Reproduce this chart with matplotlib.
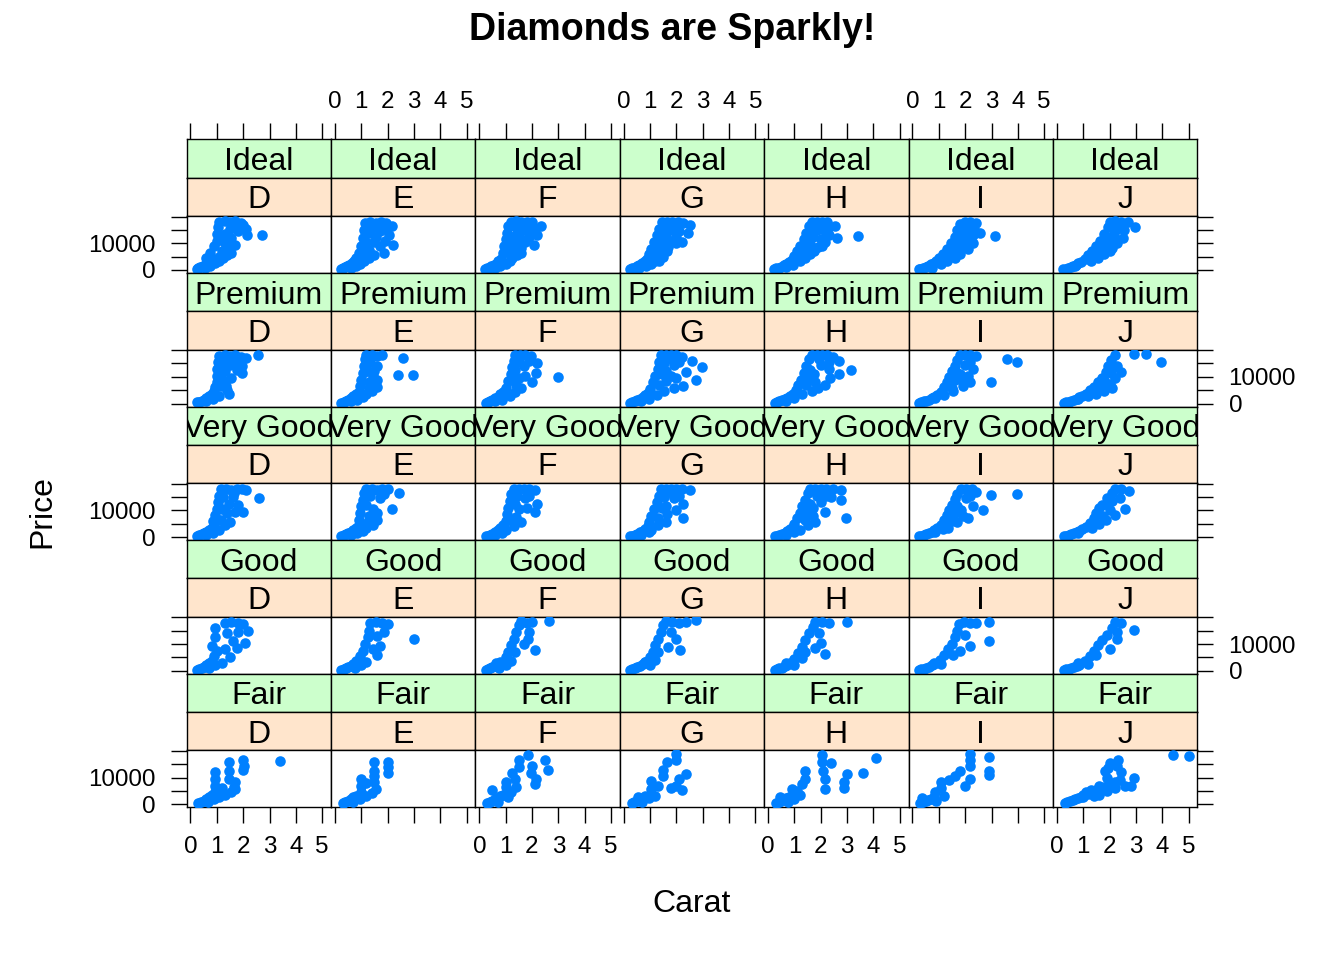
import matplotlib
matplotlib.use("Agg")
import matplotlib.pyplot as plt

plt.rcParams["font.family"] = ["Liberation Sans", "DejaVu Sans"]

title = "Diamonds are Sparkly!"
x_label = "Carat"
y_label = "Price"
cut_levels = ["Ideal", "Premium", "Very Good", "Good", "Fair"]  # rows, top to bottom
color_levels = ["D", "E", "F", "G", "H", "I", "J"]  # columns
x_ticks = [0, 1, 2, 3, 4, 5]
y_ticks = [0, 5000, 10000, 15000, 20000]
y_tick_labels = ["0", "", "10000", "", ""]

# (carat, price)
ideal_d = [(0.23, 400), (0.3, 650), (0.38, 950), (0.46, 1300), (0.55, 1800), (0.64, 2400), (0.73, 3100), (0.82, 3900),
           (0.55, 700), (0.75, 1500), (0.95, 2500), (1.1, 3500), (1.25, 4500), (1.4, 5600), (1.55, 6500),
           (0.6, 4500), (0.75, 6500), (0.9, 8800), (1.0, 11000), (1.0, 13500), (1.05, 16000), (1.1, 18000),
           (1.3, 18200), (1.5, 17800), (1.7, 18200), (1.9, 17600), (1.8, 14500), (2.0, 17000), (2.1, 15500),
           (1.2, 7000), (1.3, 10000), (1.3, 13500), (1.5, 15500), (1.55, 12000), (1.7, 9500), (1.45, 8500),
           (1.1, 5000), (1.15, 12000), (1.7, 16000), (1.4, 11500), (1.9, 16000),
           (2.13, 13000), (2.73, 13200)]
ideal_e = [(0.23, 400), (0.3, 650), (0.38, 950), (0.46, 1400), (0.55, 1900), (0.64, 2600), (0.73, 3400), (0.82, 4500),
           (0.6, 900), (0.8, 1600), (0.95, 2300), (1.1, 3200), (1.3, 4500), (1.5, 5500), (1.85, 6500),
           (0.9, 6500), (1.0, 9000), (1.05, 12000), (1.1, 15000), (1.15, 17500),
           (1.35, 17800), (1.55, 17500), (1.75, 17900), (1.95, 17600), (2.15, 16500), (2.05, 13000),
           (1.3, 7500), (1.5, 10500), (1.35, 14000), (1.7, 14500), (1.7, 9000), (1.9, 11000),
           (1.2, 6000), (1.2, 10500), (1.25, 16000), (1.55, 16000), (1.9, 15500), (1.55, 12500), (1.05, 4000),
           (2.21, 9400)]
ideal_f = [(0.23, 380), (0.3, 600), (0.38, 900), (0.46, 1300), (0.55, 1800), (0.64, 2400), (0.73, 3200), (0.82, 4200),
           (0.6, 850), (0.8, 1500), (1.0, 2300), (1.15, 3300), (1.25, 4600), (1.45, 5600), (1.6, 6300),
           (0.9, 6200), (0.95, 8800), (1.0, 11500), (1.05, 14000), (1.1, 16500), (1.2, 18000),
           (1.4, 18200), (1.6, 17800), (1.8, 18000), (2.0, 17800), (2.35, 16500), (2.2, 13000),
           (1.3, 7500), (1.4, 10500), (1.45, 14000), (1.7, 15000), (1.75, 10500), (1.9, 12500), (1.6, 8300),
           (1.15, 6000), (1.2, 9000), (1.25, 12500), (1.3, 16500), (1.55, 16000), (1.55, 12000), (2.1, 15500),
           (1.9, 14500),
           (2.09, 9400)]
ideal_g = [(0.23, 380), (0.3, 600), (0.4, 900), (0.5, 1300), (0.6, 1800), (0.7, 2500), (0.8, 3300), (0.9, 4200),
           (0.6, 800), (0.85, 1500), (1.05, 2300), (1.2, 3300), (1.35, 3500), (1.5, 5000), (1.65, 7000),
           (0.95, 6000), (1.05, 8000), (1.15, 10500), (1.25, 13000), (1.35, 15500), (1.45, 17800),
           (1.65, 18000), (1.85, 17800), (2.05, 18000), (2.25, 17600), (2.5, 17000), (2.45, 14000),
           (1.35, 7000), (1.5, 9500), (1.6, 12500), (1.8, 15000), (1.85, 11000), (2.1, 14500), (2.2, 10500),
           (1.25, 5500), (1.3, 8500), (1.45, 11000), (1.55, 14500), (1.7, 16500), (2.0, 16000), (1.7, 8500),
           (2.0, 12500), (2.0, 10000)]
ideal_h = [(0.23, 350), (0.3, 550), (0.4, 850), (0.5, 1200), (0.6, 1700), (0.7, 2300), (0.8, 3000), (0.9, 3800),
           (0.7, 1000), (0.95, 1900), (1.2, 3400), (1.4, 4600), (1.6, 5800), (1.75, 7000), (2.05, 9000),
           (1.0, 5200), (1.1, 7000), (1.2, 9000), (1.35, 11500), (1.45, 14000), (1.55, 16500), (1.65, 17800),
           (1.85, 18000), (2.05, 17800), (2.25, 17900), (2.55, 16500), (2.3, 13000),
           (1.45, 7000), (1.6, 9800), (1.7, 12500), (1.85, 15000), (2.0, 11500), (2.15, 14500), (1.9, 8500),
           (1.3, 6000), (1.45, 8500), (1.55, 11000), (1.65, 14000), (1.95, 16500), (2.3, 16000), (2.15, 10500),
           (1.75, 7500),
           (2.6, 11800), (3.4, 12700)]
ideal_i = [(0.23, 350), (0.3, 520), (0.4, 800), (0.5, 1100), (0.6, 1500), (0.7, 2100), (0.8, 2700), (0.9, 3400),
           (0.75, 900), (1.1, 2200), (1.3, 3300), (1.6, 4600), (1.8, 6000), (2.1, 8000), (2.3, 10000),
           (1.0, 4300), (1.15, 6000), (1.3, 8000), (1.45, 10000), (1.6, 12500), (1.7, 15000), (1.8, 17300),
           (2.0, 17800), (2.2, 18000), (2.4, 17500), (2.55, 14000), (2.35, 15500),
           (1.5, 6500), (1.7, 8500), (1.85, 11000), (2.0, 13500), (2.1, 10500), (2.2, 15500),
           (1.35, 5200), (1.5, 7500), (1.65, 10000), (1.8, 13000), (1.9, 15500), (2.3, 13000), (2.0, 9000),
           (3.15, 12600)]
ideal_j = [(0.25, 340), (0.33, 500), (0.42, 750), (0.52, 1050), (0.62, 1400), (0.72, 1900), (0.82, 2500), (0.92, 3100),
           (0.7, 1600), (1.3, 3400), (1.55, 4500), (1.8, 5800), (2.1, 8200), (2.3, 10000), (2.5, 11800),
           (1.05, 4000), (1.2, 5500), (1.35, 7200), (1.5, 9000), (1.65, 11000), (1.8, 13500), (1.95, 16000),
           (2.0, 18000), (2.2, 18200), (2.45, 18000), (2.7, 17800), (2.55, 15000),
           (1.6, 6500), (1.8, 8500), (1.95, 11000), (2.15, 13000), (2.3, 15500),
           (1.45, 5500), (1.65, 7500), (1.8, 10000), (2.0, 12500), (2.15, 15000), (2.4, 16000), (2.2, 10500),
           (2.0, 7000),
           (2.95, 16000)]

premium_d = [(0.25, 400), (0.33, 700), (0.42, 1100), (0.5, 1500), (0.6, 2100), (0.7, 2800), (0.8, 3600), (0.9, 4600),
             (0.6, 900), (0.85, 1600), (1.1, 2800), (1.45, 3400), (1.4, 5000), (1.35, 6500),
             (0.95, 6200), (1.0, 8200), (1.0, 10500), (1.0, 13000), (1.05, 15500), (1.1, 17800),
             (1.3, 18200), (1.5, 17800), (1.7, 18000), (1.9, 17500), (2.1, 17000), (1.95, 14000), (1.95, 11500),
             (1.25, 9000), (1.3, 12000), (1.5, 14500), (1.55, 9500), (1.75, 12500),
             (1.15, 11000), (1.2, 15000), (1.4, 16500), (1.7, 15500), (1.15, 6500),
             (2.55, 18000)]
premium_e = [(0.25, 380), (0.33, 650), (0.42, 1000), (0.5, 1400), (0.6, 2000), (0.7, 2700), (0.8, 3500), (0.9, 4500),
             (0.6, 850), (0.85, 1500), (1.05, 2400), (1.2, 3400), (1.4, 4600), (1.6, 6300),
             (0.95, 6500), (1.0, 9000), (1.05, 11500), (1.1, 14000), (1.15, 16500), (1.2, 18200),
             (1.4, 18000), (1.6, 17800), (1.8, 18200), (1.6, 14000), (1.45, 10500), (1.3, 8000), (1.6, 9000),
             (1.25, 12000), (1.35, 15500), (1.3, 6000), (1.5, 12000),
             (2.6, 17000), (2.41, 10800), (2.97, 10800)]
premium_f = [(0.25, 380), (0.33, 620), (0.42, 950), (0.5, 1350), (0.6, 1900), (0.7, 2600), (0.8, 3400), (0.9, 4400),
             (0.6, 800), (0.85, 1400), (1.15, 2800), (1.35, 4200), (1.6, 5800), (2.0, 8000),
             (1.0, 6000), (1.1, 8500), (1.2, 11000), (1.25, 13500), (1.3, 16000), (1.35, 18200),
             (1.55, 18000), (1.75, 18200), (1.95, 17800), (2.2, 15300), (2.15, 11500), (1.7, 14000), (1.5, 9500),
             (1.75, 10500), (1.4, 6800),
             (1.35, 12500), (1.5, 15500), (1.3, 9500), (1.9, 16000),
             (2.97, 10000)]
premium_g = [(0.25, 380), (0.33, 600), (0.42, 920), (0.52, 1300), (0.62, 1800), (0.72, 2400), (0.82, 3200), (0.92, 4100),
             (0.65, 800), (0.95, 1800), (1.25, 3200), (1.55, 4600), (1.9, 6000), (2.25, 6400),
             (1.0, 5500), (1.1, 8000), (1.2, 10500), (1.3, 13000), (1.35, 15500), (1.4, 18000),
             (1.6, 18200), (1.8, 18000), (2.0, 18200), (2.2, 17500), (2.35, 11800), (1.9, 14500), (1.6, 12000),
             (1.6, 8500), (2.0, 9500), (2.1, 15500), (2.75, 8800),
             (1.45, 11000), (1.55, 15000), (1.35, 7000), (1.8, 16500), (1.8, 10500),
             (2.6, 16000), (2.97, 13600)]
premium_h = [(0.25, 360), (0.33, 560), (0.43, 850), (0.53, 1200), (0.63, 1650), (0.73, 2200), (0.83, 2900), (0.93, 3700),
             (0.7, 900), (1.0, 2200), (1.3, 3600), (1.65, 4600), (1.9, 5800), (2.15, 7000),
             (1.05, 5000), (1.15, 7000), (1.25, 9000), (1.35, 11500), (1.45, 14000), (1.55, 16500), (1.65, 18200),
             (1.85, 18200), (2.05, 18000), (2.25, 18200), (2.45, 17500), (2.7, 16000), (2.7, 11000), (2.3, 13000),
             (2.0, 14500), (1.75, 11000), (1.8, 8000), (2.35, 9500),
             (1.5, 9500), (1.6, 12500), (1.95, 16500), (1.45, 7000), (2.3, 15500),
             (3.13, 12400)]
premium_i = [(0.25, 350), (0.33, 530), (0.43, 800), (0.53, 1100), (0.63, 1500), (0.73, 2000), (0.83, 2600), (0.93, 3300),
             (0.85, 2200), (1.2, 3200), (1.55, 4600), (1.9, 6500), (2.2, 8200),
             (1.1, 4500), (1.2, 6300), (1.3, 8200), (1.4, 10000), (1.5, 12000), (1.6, 14200), (1.7, 16300), (1.8, 18200),
             (2.0, 18200), (2.2, 18000), (2.4, 17700), (2.3, 13000), (2.0, 14500), (1.8, 11000), (1.9, 8500),
             (2.1, 10500),
             (1.6, 9000), (1.7, 11500), (2.2, 15500), (1.5, 6000),
             (3.57, 16600), (3.95, 15400), (2.97, 8200)]
premium_j = [(0.27, 340), (0.35, 500), (0.45, 750), (0.55, 1050), (0.65, 1400), (0.75, 1800), (0.85, 2300), (0.95, 2900),
             (0.8, 1600), (1.2, 2700), (1.5, 3400), (1.8, 4600), (2.08, 5800),
             (1.1, 3700), (1.25, 4900), (1.4, 6300), (1.55, 7900), (1.7, 9700), (1.85, 11800), (1.95, 14000),
             (2.05, 16200), (2.2, 18200), (2.45, 11800), (2.3, 14000), (2.2, 9500), (2.0, 7500),
             (1.8, 9000), (2.05, 11500), (2.15, 13500), (1.7, 6500),
             (2.94, 18400), (3.4, 18400), (3.97, 15400)]

vgood_d = [(0.25, 400), (0.33, 700), (0.42, 1050), (0.5, 1500), (0.6, 2100), (0.7, 2800), (0.8, 3600), (0.9, 4600),
           (0.6, 800), (0.85, 1500), (1.1, 2800), (1.3, 4500), (1.5, 5800),
           (0.85, 6000), (0.95, 8200), (1.0, 10500), (1.05, 13000), (1.1, 15500), (1.15, 18000),
           (1.35, 18200), (1.55, 17800), (1.75, 18200), (1.95, 18000), (2.1, 17500), (1.8, 12000), (2.0, 9400),
           (1.4, 9000), (1.45, 12500), (1.6, 15000), (1.7, 9500),
           (1.2, 10500), (1.25, 15000), (1.65, 16500), (1.15, 6500),
           (2.6, 14800)]
vgood_e = [(0.25, 380), (0.33, 650), (0.42, 1000), (0.5, 1400), (0.6, 1950), (0.7, 2650), (0.8, 3500), (0.9, 4500),
           (0.6, 850), (0.85, 1500), (1.05, 2400), (1.2, 3400), (1.45, 4600), (1.6, 6300),
           (0.9, 6500), (0.95, 9000), (1.0, 11500), (1.05, 14000), (1.1, 16500), (1.2, 18200),
           (1.4, 18200), (1.6, 17800), (1.8, 18200), (2.0, 18000), (1.7, 14500), (1.45, 10500), (1.3, 8000),
           (1.6, 9000),
           (1.2, 12000), (1.35, 15500), (1.25, 5800), (1.85, 16000),
           (2.45, 16500), (2.16, 10500)]
vgood_f = [(0.25, 380), (0.33, 620), (0.42, 950), (0.5, 1350), (0.6, 1900), (0.7, 2600), (0.8, 3400), (0.9, 4400),
           (0.6, 800), (0.85, 1400), (1.0, 2800), (1.3, 4200), (1.6, 5800),
           (1.0, 6000), (1.05, 8500), (1.1, 11000), (1.15, 13500), (1.2, 16000), (1.3, 18200),
           (1.5, 18200), (1.7, 18000), (1.9, 18200), (2.1, 17500), (2.2, 12400), (2.1, 9400), (1.75, 14500),
           (1.5, 10500), (1.8, 11000), (1.4, 7500),
           (1.35, 12500), (1.45, 15500), (1.2, 6500), (1.9, 15500)]
vgood_g = [(0.25, 380), (0.33, 600), (0.42, 920), (0.52, 1300), (0.62, 1800), (0.72, 2400), (0.82, 3200), (0.92, 4100),
           (0.65, 800), (0.95, 1800), (1.05, 2800), (1.6, 5800), (1.3, 4500),
           (0.95, 5800), (1.05, 8000), (1.15, 10500), (1.25, 13000), (1.35, 15500), (1.4, 18000),
           (1.6, 18200), (1.8, 18000), (2.0, 18200), (2.2, 18000), (2.5, 17700), (2.25, 12400), (2.25, 7000),
           (1.9, 14500), (1.6, 11500), (1.65, 8500), (2.0, 10000), (2.1, 15500),
           (1.45, 11000), (1.55, 15000), (1.3, 7000), (1.85, 16500)]
vgood_h = [(0.25, 360), (0.33, 560), (0.43, 850), (0.53, 1200), (0.63, 1650), (0.73, 2200), (0.83, 2900), (0.93, 3700),
           (0.7, 900), (1.0, 2000), (1.2, 2800), (1.5, 4600), (1.8, 5800),
           (1.0, 5000), (1.1, 7000), (1.2, 9000), (1.3, 11500), (1.4, 14000), (1.5, 16500), (1.6, 18200),
           (1.8, 18200), (2.0, 18000), (2.2, 18200), (2.45, 18000), (2.75, 17800), (2.75, 14000), (2.4, 15000),
           (2.15, 9400), (2.0, 13000), (1.7, 11000), (1.7, 7800),
           (1.5, 9500), (1.6, 12500), (1.85, 15500), (2.2, 15500), (1.4, 6500),
           (2.94, 7000)]
vgood_i = [(0.25, 350), (0.33, 530), (0.43, 800), (0.53, 1100), (0.63, 1500), (0.73, 2000), (0.83, 2600), (0.93, 3300),
           (0.85, 2100), (1.15, 3000), (1.35, 3400), (1.7, 5500), (2.1, 7000),
           (1.1, 4500), (1.2, 6300), (1.3, 8200), (1.4, 10000), (1.5, 12000), (1.6, 14200), (1.7, 16300), (1.85, 18200),
           (2.05, 18200), (2.25, 18000), (2.4, 17000), (2.3, 11800), (2.05, 14500), (1.85, 10000), (1.9, 8000),
           (1.6, 9000), (1.7, 11500), (2.2, 15500), (1.5, 6000),
           (2.99, 15600), (3.97, 16000), (2.67, 10000)]
vgood_j = [(0.27, 340), (0.35, 500), (0.45, 750), (0.55, 1050), (0.65, 1400), (0.75, 1800), (0.85, 2300), (0.95, 2900),
           (0.8, 1500), (1.35, 3400), (1.6, 4800), (1.85, 6400),
           (1.1, 3800), (1.25, 5200), (1.4, 7000), (1.5, 9000), (1.6, 11000), (1.7, 12000), (1.9, 14500),
           (2.1, 16500), (2.2, 18200), (2.45, 18200), (2.74, 17200), (2.57, 10500), (2.2, 8200), (2.0, 10000),
           (2.4, 14500), (1.85, 12500), (2.1, 13500), (1.75, 8000)]

good_d = [(0.25, 420), (0.33, 700), (0.42, 1050), (0.5, 1500), (0.6, 2100), (0.7, 2800), (0.8, 3600),
          (0.7, 1100), (0.95, 2000), (1.2, 2800), (1.5, 5000),
          (0.83, 9400), (0.9, 5500), (1.0, 7500), (0.95, 12500), (0.95, 16000),
          (1.3, 18000), (1.55, 18200), (1.8, 18000), (2.0, 17500), (1.4, 14000), (1.6, 11000), (1.8, 14500),
          (2.2, 14800), (2.07, 10500), (1.3, 8000), (1.75, 8500)]
good_e = [(0.25, 400), (0.33, 650), (0.42, 1000), (0.5, 1400), (0.6, 1950), (0.7, 2650), (0.8, 3500),
          (0.75, 1100), (1.0, 2200), (1.2, 3400), (1.6, 5800),
          (0.95, 5500), (1.05, 7500), (1.15, 10000), (1.25, 12500), (1.3, 15000), (1.35, 18000),
          (1.55, 18200), (1.8, 18000), (2.0, 17500), (1.7, 9400), (1.6, 13000), (1.45, 8000), (1.85, 14500),
          (3.0, 11800)]
good_f = [(0.25, 380), (0.33, 620), (0.42, 950), (0.5, 1350), (0.6, 1900), (0.7, 2600), (0.8, 3400),
          (0.65, 2800), (0.75, 1200), (1.0, 2200), (1.2, 3600), (1.35, 7000),
          (1.0, 5000), (1.1, 7000), (1.2, 9500), (1.3, 12000), (1.4, 14500), (1.5, 17000), (1.6, 18500),
          (1.8, 18000), (2.0, 18200), (1.85, 11800), (2.1, 7600), (1.9, 14500), (1.7, 10000),
          (2.65, 18700)]
good_g = [(0.25, 380), (0.33, 600), (0.42, 920), (0.52, 1300), (0.62, 1800), (0.72, 2400), (0.82, 3200),
          (0.8, 3400), (1.0, 2000), (1.3, 7000), (1.2, 4000),
          (1.0, 5000), (1.1, 7000), (1.2, 9500), (1.3, 12000), (1.4, 14500), (1.5, 17000), (1.6, 18500),
          (1.85, 18300), (2.1, 18000), (2.35, 18200), (2.74, 19000), (2.0, 11800), (2.13, 7600), (1.8, 14500),
          (1.7, 9000)]
good_h = [(0.25, 360), (0.33, 560), (0.43, 850), (0.53, 1200), (0.63, 1650), (0.73, 2200), (0.83, 2900),
          (0.7, 2800), (1.0, 2000), (1.4, 7000), (1.3, 4600),
          (1.0, 4500), (1.15, 6500), (1.3, 9000), (1.4, 11500), (1.55, 14000), (1.7, 16500), (1.8, 18200),
          (2.05, 18200), (2.3, 18000), (3.0, 18400), (2.0, 10500), (2.16, 6400), (1.95, 14000), (1.8, 8500)]
good_i = [(0.25, 350), (0.33, 530), (0.43, 800), (0.53, 1100), (0.63, 1500), (0.73, 2000), (0.83, 2600),
          (0.8, 2800), (1.1, 2400), (1.55, 5800),
          (1.05, 4200), (1.2, 6000), (1.35, 8000), (1.5, 10000), (1.6, 12500), (1.7, 15000), (1.75, 17500),
          (1.95, 18200), (2.2, 18000), (2.4, 17800), (2.9, 18400), (2.9, 11200), (2.2, 9400), (2.0, 13500),
          (1.8, 7500)]
good_j = [(0.27, 340), (0.35, 500), (0.45, 750), (0.55, 1050), (0.65, 1400), (0.75, 1800), (0.85, 2300),
          (0.8, 2800), (1.2, 2500), (1.5, 5800),
          (1.05, 3800), (1.25, 5500), (1.4, 7500), (1.55, 9500), (1.7, 11500), (1.9, 13500), (2.1, 16000),
          (2.2, 18200), (2.45, 18000), (2.3, 11800), (2.0, 8200), (2.94, 15400), (2.3, 14500)]

fair_d = [(0.3, 500), (0.4, 900), (0.5, 1400), (0.6, 2000), (0.7, 2700), (0.8, 3400),
          (0.65, 1000), (0.9, 2000), (1.1, 2800), (1.3, 3500), (1.55, 4800),
          (0.95, 4600), (0.95, 7000), (0.95, 9600), (0.95, 12000), (1.2, 6000),
          (1.45, 16000), (1.45, 12400), (1.45, 9500), (1.7, 8200), (1.7, 5800), (1.65, 6500),
          (2.0, 16600), (2.0, 13000), (2.05, 14500),
          (3.4, 16300)]
fair_e = [(0.3, 500), (0.4, 900), (0.5, 1400), (0.6, 2000), (0.7, 2700), (0.8, 3300),
          (0.7, 1000), (0.95, 2000), (1.2, 3000), (1.4, 4200),
          (1.0, 4800), (1.0, 7000), (1.0, 9400), (1.2, 8000),
          (1.47, 16000), (1.47, 12400), (1.47, 8200), (1.5, 10500), (1.55, 5800),
          (2.0, 16000), (2.0, 11800), (2.0, 14000)]
fair_f = [(0.3, 450), (0.4, 800), (0.5, 1300), (0.6, 1900), (0.7, 2500), (0.8, 3100),
          (0.5, 5200), (0.7, 1000), (0.9, 3400), (1.1, 2600), (1.2, 4500),
          (1.0, 8200), (1.0, 6500), (1.26, 11800), (1.35, 9500), (1.5, 16600), (1.5, 14000),
          (1.86, 18400), (1.95, 11800), (2.1, 7600), (2.0, 14500), (2.48, 16600), (2.6, 13000), (2.15, 9500),
          (1.4, 6500)]
fair_g = [(0.3, 450), (0.4, 800), (0.5, 1250), (0.6, 1800), (0.7, 2400), (0.8, 3000),
          (0.55, 2800), (0.7, 1000), (0.95, 2200), (1.2, 3200),
          (1.03, 8800), (1.03, 5800), (1.5, 13000), (1.65, 16000), (1.5, 10500), (1.3, 7000),
          (2.0, 19000), (2.0, 16500), (2.37, 11200), (2.0, 7000), (2.1, 9400), (2.2, 5500), (1.8, 6000)]
fair_h = [(0.3, 400), (0.4, 750), (0.5, 1200), (0.6, 1700), (0.7, 2200), (0.8, 2800),
          (0.45, 2800), (0.75, 1000), (1.0, 2000), (1.2, 3500),
          (0.9, 5800), (1.1, 5000), (1.4, 12400), (1.4, 9400), (1.3, 7500),
          (2.03, 18400), (2.03, 16000), (2.4, 15400), (2.15, 9400), (2.15, 5800), (2.1, 12500),
          (3.0, 11200), (3.6, 11800), (4.1, 17500), (2.9, 8200), (2.9, 6200)]
fair_i = [(0.3, 400), (0.4, 700), (0.5, 1100), (0.6, 1600), (0.7, 2100), (0.8, 2700),
          (0.35, 2200), (0.85, 4600), (0.9, 1200), (1.2, 3000),
          (1.08, 8200), (1.1, 6000), (1.4, 9000), (1.8, 12400), (1.6, 10500),
          (2.18, 19000), (2.2, 14400), (2.2, 16500), (2.2, 9400), (2.0, 7000),
          (2.9, 17800), (2.9, 10800), (2.9, 12500)]
fair_j = [(0.3, 600), (0.4, 1000), (0.5, 1200), (0.6, 1600), (0.7, 2000), (0.8, 2500), (0.9, 2900),
          (1.0, 2800), (1.0, 3500), (1.2, 4000), (1.4, 3300), (1.6, 3600), (1.9, 5000), (2.2, 6000),
          (1.1, 4600), (1.3, 5400), (1.6, 6800), (2.0, 7500), (2.4, 9000),
          (2.6, 7000), (1.5, 5200), (1.8, 6500), (1.84, 12400), (1.9, 10000), (2.2, 8200), (2.33, 16600),
          (2.45, 12000), (2.3, 14500), (2.0, 15500), (1.95, 13500), (2.94, 10000), (2.8, 7000),
          (4.4, 18400), (5.0, 18000)]

panel_points = {
    "Ideal": [ideal_d, ideal_e, ideal_f, ideal_g, ideal_h, ideal_i, ideal_j],
    "Premium": [premium_d, premium_e, premium_f, premium_g, premium_h, premium_i, premium_j],
    "Very Good": [vgood_d, vgood_e, vgood_f, vgood_g, vgood_h, vgood_i, vgood_j],
    "Good": [good_d, good_e, good_f, good_g, good_h, good_i, good_j],
    "Fair": [fair_d, fair_e, fair_f, fair_g, fair_h, fair_i, fair_j],
}

W, H = 1344, 960
fig = plt.figure(figsize=(W / 100, H / 100), dpi=100)


def box(x0, y0, w, h):
    # pixel box (from top-left) -> figure fraction
    return [x0 / W, 1 - (y0 + h) / H, w / W, h / H]


left0, col_w = 186.5, 144.4
top0, row_h, strip_h = 139.3, 133.6, 38.3
panel_h = row_h - 2 * strip_h
xlim = (-0.15, 5.33)
ylim = (-1100, 20230)
lw = 1.0
tick_len, tick_w, tick_fs = 11.5, 1.0, 17.4
strip_fs = 23
point_col = "#0080ff"

for r, cut in enumerate(cut_levels):
    for c, col in enumerate(color_levels):
        x0 = left0 + c * col_w
        y0 = top0 + r * row_h
        ax_cut = fig.add_axes(box(x0, y0, col_w, strip_h))
        ax_col = fig.add_axes(box(x0, y0 + strip_h, col_w, strip_h))
        ax = fig.add_axes(box(x0, y0 + 2 * strip_h, col_w, panel_h))

        for a, lab, fc in ((ax_cut, cut, "#ccffcc"), (ax_col, col, "#ffe5cc")):
            a.set_facecolor(fc)
            a.set_xlim(xlim)
            a.set_xticks([])
            a.set_yticks([])
            for s in a.spines.values():
                s.set_linewidth(lw)
            a.text(0.5, 0.2, lab, transform=a.transAxes, ha="center", va="baseline",
                   fontsize=strip_fs, clip_on=True)

        if r == 0:
            ax_cut.set_xticks(x_ticks)
            ax_cut.tick_params(axis="x", top=True, bottom=False, labelbottom=False,
                               labeltop=(c % 2 == 1), direction="out", length=tick_len,
                               width=tick_w, labelsize=tick_fs, pad=7.2)

        pts = panel_points[cut][c]
        ax.scatter([p[0] for p in pts], [p[1] for p in pts], s=58, c=point_col,
                   linewidths=0, zorder=3)
        ax.set_xlim(xlim)
        ax.set_ylim(ylim)
        for s in ax.spines.values():
            s.set_linewidth(lw)

        ax.set_xticks(x_ticks)
        last = r == len(cut_levels) - 1
        ax.tick_params(axis="x", bottom=last, top=False, labelbottom=(last and c % 2 == 0),
                       direction="out", length=tick_len, width=tick_w, labelsize=tick_fs, pad=9)
        ax.set_yticks(y_ticks)
        ax.set_yticklabels(y_tick_labels)
        ax.tick_params(axis="y", left=(c == 0), right=(c == 6),
                       labelleft=(c == 0 and r % 2 == 0), labelright=(c == 6 and r % 2 == 1),
                       direction="out", length=tick_len, width=tick_w, labelsize=tick_fs,
                       pad=11)

fig.text(0.5, 1 - 40 / H, title, ha="center", va="baseline", fontsize=27, fontweight="bold")
fig.text(692 / W, 1 - 912 / H, x_label, ha="center", va="baseline", fontsize=23)
fig.text(42 / W, 1 - 512 / H, y_label, rotation=90, ha="center", va="center", fontsize=23)

fig.savefig("out.png", dpi=100)
